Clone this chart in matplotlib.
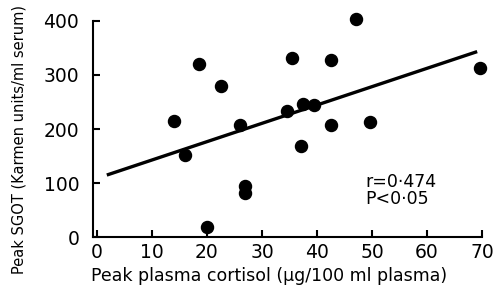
import matplotlib
matplotlib.use("Agg")
import matplotlib.pyplot as plt

# Peak plasma cortisol (ug/100 ml) vs peak SGOT (Karmen units/ml serum)
cortisol = [14, 16, 18.5, 22.5, 20, 26, 27, 27, 34.5, 35.5, 37.5, 37,
            39.5, 42.5, 42.5, 47, 49.7, 69.7]
sgot = [215, 152, 321, 280, 19, 207, 95, 82, 234, 331, 246, 169,
        244, 328, 207, 403, 213, 312]

# Regression line end points
fit_x = [1.8, 69.1]
fit_y = [115, 343]

x_ticks = [0, 10, 20, 30, 40, 50, 60, 70]
y_ticks = [0, 100, 200, 300, 400]

fig = plt.figure(figsize=(4.95, 2.88), dpi=100)
ax = fig.add_axes([0.188, 0.176, 0.786, 0.752])

ax.scatter(cortisol, sgot, s=75, color="black", zorder=3, clip_on=False)
ax.plot(fit_x, fit_y, color="black", linewidth=2.4, solid_capstyle="butt")

ax.set_xlim(-0.7, 70)
ax.set_ylim(0, 400)
ax.set_xticks(x_ticks)
ax.set_yticks(y_ticks)

for side in ("top", "right"):
    ax.spines[side].set_visible(False)
for side in ("left", "bottom"):
    ax.spines[side].set_linewidth(1.5)

ax.tick_params(direction="in", length=5, width=1.5, labelsize=13.5, color="black")
ax.tick_params(axis="x", pad=4)
ax.tick_params(axis="y", pad=10)

ax.set_xlabel("Peak plasma cortisol (\u03bcg/100 ml plasma)", fontsize=12.5)
ax.xaxis.set_label_coords(0.452, -0.135)
ax.set_ylabel("Peak SGOT (Karmen units/ml serum)", fontsize=10.5,
              family=["Liberation Sans Narrow", "DejaVu Sans"])
ax.yaxis.set_label_coords(-0.17, 0.452)

ax.text(48.8, 86, "r=0\u00b7474\nP<0\u00b705", fontsize=12.5, va="center",
        linespacing=0.95)

fig.savefig("out.png", dpi=100)
